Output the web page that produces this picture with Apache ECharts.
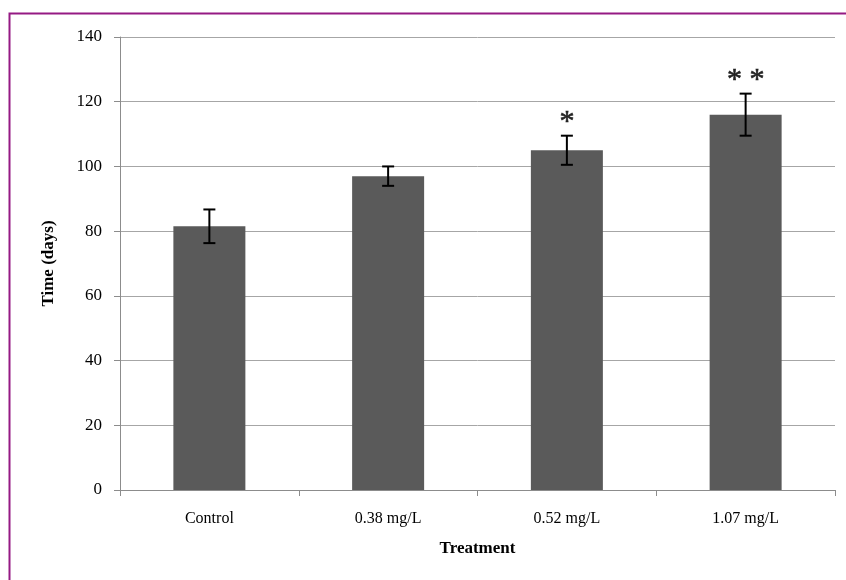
<!DOCTYPE html>
<html>
<head>
<meta charset="utf-8">
<script src="https://cdn.jsdelivr.net/npm/echarts@6/dist/echarts.min.js"></script>
<style>
  html, body { margin: 0; padding: 0; background: #fff; }
  #chart { width: 846px; height: 580px; }
</style>
</head>
<body>
<div id="chart"></div>
<script>
// Treatment groups and mean time (days) with error bar half-widths
const categories = ['Control', '0.38 mg/L', '0.52 mg/L', '1.07 mg/L'];
const meanDays = [81.5, 97, 105, 116];
const errDays = [5.2, 3, 4.5, 6.5];
const significance = ['', '', '*', '* *'];
const yMin = 0, yMax = 140, yStep = 20;

const serif = '"Liberation Serif", "DejaVu Serif", serif';

const chart = echarts.init(document.getElementById('chart'), null, { renderer: 'canvas' });

const errData = categories.map((c, i) => [i, meanDays[i] - errDays[i], meanDays[i] + errDays[i]]);

chart.setOption({
  animation: false,
  backgroundColor: '#ffffff',
  graphic: [{
    type: 'rect',
    left: 7, top: 11,
    shape: { width: 900, height: 700 },
    style: { fill: 'none', stroke: '#951a84', lineWidth: 2 },
    silent: true
  }],
  grid: { left: 120, right: 11, top: 37, bottom: 90 },
  xAxis: {
    type: 'category',
    data: categories,
    name: 'Treatment',
    nameLocation: 'middle',
    nameGap: 50,
    nameTextStyle: { fontFamily: serif, fontWeight: 'bold', fontSize: 17, color: '#000' },
    axisLine: { lineStyle: { color: '#8c8c8c', width: 1 } },
    axisTick: { show: true, alignWithLabel: false, length: 6, lineStyle: { color: '#8c8c8c' } },
    axisLabel: { fontFamily: serif, fontSize: 16, color: '#000', margin: 21 }
  },
  yAxis: {
    type: 'value',
    min: yMin, max: yMax, interval: yStep,
    name: 'Time (days)',
    nameLocation: 'middle',
    nameGap: 63,
    nameRotate: 90,
    nameTextStyle: { fontFamily: serif, fontWeight: 'bold', fontSize: 17, color: '#000' },
    axisLine: { show: true, lineStyle: { color: '#8c8c8c', width: 1 } },
    axisTick: { show: true, length: 6, lineStyle: { color: '#8c8c8c' } },
    axisLabel: { fontFamily: serif, fontSize: 17, color: '#000', margin: 18 },
    splitLine: { show: true, lineStyle: { color: '#a6a6a6', width: 1 } }
  },
  series: [
    {
      type: 'bar',
      data: meanDays,
      barWidth: 72,
      itemStyle: { color: '#5a5a5a' },
      z: 2
    },
    {
      type: 'custom',
      data: errData,
      z: 3,
      renderItem: function (params, api) {
        const idx = api.value(0);
        const lo = api.coord([idx, api.value(1)]);
        const hi = api.coord([idx, api.value(2)]);
        const half = 6;
        const children = [
          { type: 'line', shape: { x1: hi[0], y1: hi[1], x2: lo[0], y2: lo[1] }, style: { stroke: '#000', lineWidth: 2 } },
          { type: 'line', shape: { x1: hi[0] - half, y1: hi[1], x2: hi[0] + half, y2: hi[1] }, style: { stroke: '#000', lineWidth: 2 } },
          { type: 'line', shape: { x1: lo[0] - half, y1: lo[1], x2: lo[0] + half, y2: lo[1] }, style: { stroke: '#000', lineWidth: 2 } }
        ];
        const mark = significance[params.dataIndex];
        if (mark) {
          children.push({
            type: 'text',
            style: {
              text: mark,
              x: hi[0], y: hi[1] + 1,
              align: 'center', verticalAlign: 'bottom',
              font: '30px ' + serif,
              fill: '#222',
              stroke: '#222',
              lineWidth: 0.6
            }
          });
        }
        return { type: 'group', children: children };
      }
    }
  ]
});
</script>
</body>
</html>
